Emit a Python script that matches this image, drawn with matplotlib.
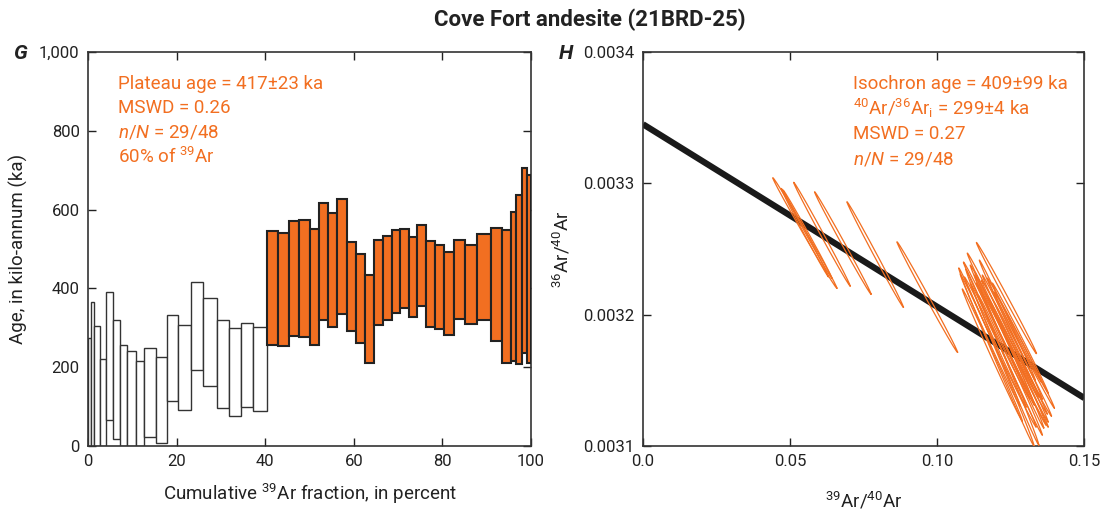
import numpy as np
import matplotlib
matplotlib.use("Agg")
import matplotlib.pyplot as plt
from matplotlib.ticker import FuncFormatter

# Fonts: a narrow-ish sans to mimic the condensed USGS look
plt.rcParams['font.family'] = ['Roboto', 'DejaVu Sans']
plt.rcParams['mathtext.fontset'] = 'custom'
plt.rcParams['mathtext.rm'] = 'Roboto'
plt.rcParams['mathtext.it'] = 'Roboto:italic'
plt.rcParams['mathtext.bf'] = 'Roboto:bold'

ORANGE = '#F26F21'

# ---------------- Panel G: age spectrum ----------------
# cumulative 39Ar boundaries (percent), 48 steps
cum_pct = [0, 0.75, 1.35, 2.64, 4.13, 5.64, 7.16, 8.8, 10.8, 12.7, 15.3, 17.8,
           20.4, 23.2, 26.0, 29.2, 31.8, 34.5, 37.3, 40.3,
           42.8, 45.4, 47.7, 50.0, 52.1, 54.2, 56.3, 58.4, 60.5, 62.5, 64.6,
           66.5, 68.5, 70.4, 72.5, 74.3, 76.3, 78.3, 80.4, 82.7, 85.0, 87.9,
           90.9, 93.4, 95.4, 96.7, 97.9, 99.0, 100.0]
age_lo = [0, 0, 0, 0, 66, 17, 0, 0, 0, 24, 7, 113, 91, 193, 153, 97, 77, 100, 90,
          256, 254, 279, 277, 256, 321, 301, 335, 293, 262, 210, 307, 321, 338,
          349, 328, 355, 301, 298, 283, 323, 310, 321, 266, 211, 216, 207, 235, 211]
age_hi = [273, 365, 305, 221, 390, 320, 256, 240, 217, 250, 225, 332, 306, 415,
          375, 321, 300, 313, 303,
          546, 541, 570, 574, 552, 616, 592, 626, 519, 487, 434, 523, 534, 548,
          552, 531, 561, 520, 510, 493, 524, 510, 539, 553, 548, 595, 637, 705, 689]
n_excluded = 19  # first steps not in plateau

# ---------------- Panel H: inverse isochron ----------------
# ellipse centres (39Ar/40Ar, 36Ar/40Ar) and half-extents
ell_x = [0.0550, 0.0550, 0.0559, 0.0608, 0.0679, 0.0789, 0.0966,
         0.1235, 0.1201, 0.1221, 0.1245, 0.1214, 0.1241, 0.1255, 0.1269,
         0.1282, 0.1255, 0.1228, 0.1207, 0.1187, 0.1275, 0.1296, 0.1248,
         0.1201, 0.1180, 0.1262, 0.1289, 0.1224, 0.1238]
ell_y = [0.0032622, 0.0032625, 0.0032613, 0.0032613, 0.0032546, 0.0032458, 0.0032134,
         0.0032127, 0.0031678, 0.0031678, 0.0031731, 0.0031716, 0.0031769, 0.0031693,
         0.0031746, 0.0031822, 0.0031830, 0.0031807, 0.0031769, 0.0031693, 0.0031655,
         0.0031731, 0.0031617, 0.0031883, 0.0031807, 0.0031883, 0.0031609, 0.0031921,
         0.0031959]
ell_sx = [0.0109, 0.0080, 0.0083, 0.0096, 0.0096, 0.0096, 0.0103,
          0.0102, 0.0128, 0.0124, 0.0117, 0.0122, 0.0129, 0.0122, 0.0119,
          0.0095, 0.0102, 0.0102, 0.0095, 0.0102, 0.0102, 0.0102, 0.0109,
          0.0112, 0.0102, 0.0092, 0.0085, 0.0122, 0.0095]
ell_sy = [4.21e-5, 3.36e-5, 3.36e-5, 3.95e-5, 3.90e-5, 4.02e-5, 4.21e-5,
          4.23e-5, 6.78e-5, 6.70e-5, 5.94e-5, 5.71e-5, 6.09e-5, 5.48e-5, 5.18e-5,
          4.19e-5, 4.72e-5, 4.95e-5, 4.72e-5, 5.03e-5, 4.72e-5, 4.42e-5, 5.33e-5,
          5.18e-5, 5.03e-5, 3.96e-5, 3.65e-5, 5.48e-5, 4.57e-5]
ell_rho = -0.998
iso_intercept = 0.003345
iso_slope = -0.00139

fig = plt.figure(figsize=(11.02, 5.14), dpi=100)
axG = fig.add_axes([0.0799, 0.1323, 0.402, 0.7665])
axH = fig.add_axes([0.5835, 0.1323, 0.4005, 0.7665])

# --- G bars
left = np.array(cum_pct[:-1])
width = np.diff(cum_pct)
lo = np.array(age_lo)
hi = np.array(age_hi)
axG.bar(left[:n_excluded], (hi - lo)[:n_excluded], width=width[:n_excluded],
        bottom=lo[:n_excluded], align='edge', facecolor='white',
        edgecolor='#333333', linewidth=1.0, zorder=2)
axG.bar(left[n_excluded:], (hi - lo)[n_excluded:], width=width[n_excluded:],
        bottom=lo[n_excluded:], align='edge', facecolor=ORANGE,
        edgecolor='#222222', linewidth=1.5, zorder=3)
axG.set_xlim(0, 100)
axG.set_ylim(0, 1000)
axG.set_xticks([0, 20, 40, 60, 80, 100])
axG.set_yticks([0, 200, 400, 600, 800, 1000])
axG.yaxis.set_major_formatter(FuncFormatter(lambda v, p: f'{int(v):,}'))
axG.set_xlabel('Cumulative $^{39}$Ar fraction, in percent', fontsize=13.5, labelpad=9,
               color='#222222')
axG.set_ylabel('Age, in kilo-annum (ka)', fontsize=13.5, labelpad=8, color='#222222')

g_lines = ['Plateau age = 417\u00b123 ka', 'MSWD = 0.26', '$n/N$ = 29/48',
           '60% of $^{39}$Ar']
for i, s in enumerate(g_lines):
    axG.text(0.068, 0.92 - i * 0.062, s, transform=axG.transAxes, color=ORANGE,
             fontsize=13.5, va='center', ha='left')

# --- H ellipses + isochron
t = np.linspace(0, 2 * np.pi, 400)
for cx, cy, sx, sy in zip(ell_x, ell_y, ell_sx, ell_sy):
    ex = cx + sx * np.cos(t)
    ey = cy + sy * (ell_rho * np.cos(t) + np.sqrt(1 - ell_rho ** 2) * np.sin(t))
    axH.plot(ex, ey, color=ORANGE, lw=0.9, zorder=3)
xl = np.array([0, 0.15])
axH.plot(xl, iso_intercept + iso_slope * xl, color='#1a1a1a', lw=4.5, zorder=2,
         solid_capstyle='butt')
axH.set_xlim(0, 0.15)
axH.set_ylim(0.0031, 0.0034)
axH.set_xticks([0, 0.05, 0.10, 0.15])
axH.set_xticklabels(['0.0', '0.05', '0.10', '0.15'])
axH.set_yticks([0.0031, 0.0032, 0.0033, 0.0034])
axH.set_yticklabels(['0.0031', '0.0032', '0.0033', '0.0034'])
axH.set_xlabel('$^{39}$Ar/$^{40}$Ar', fontsize=13.5, labelpad=15, color='#222222')
axH.set_ylabel('$^{36}$Ar/$^{40}$Ar', fontsize=13.5, labelpad=8, color='#222222')

h_lines = ['Isochron age = 409\u00b199 ka', '$^{40}$Ar/$^{36}$Ar$_{\\mathrm{i}}$ = 299\u00b14 ka',
           'MSWD = 0.27', '$n/N$ = 29/48']
for i, s in enumerate(h_lines):
    axH.text(0.475, 0.92 - i * 0.064, s, transform=axH.transAxes, color=ORANGE,
             fontsize=13.5, va='center', ha='left')

for ax in (axG, axH):
    ax.tick_params(direction='in', top=True, right=True, length=6, width=1.0,
                   labelsize=12, colors='#222222', pad=6)
    for sp in ax.spines.values():
        sp.set_linewidth(1.2)
        sp.set_color('#333333')

fig.text(0.535, 0.962, 'Cove Fort andesite (21BRD-25)', ha='center', va='center',
         fontsize=16, fontweight='bold', color='#222222')
fig.text(0.012, 0.895, 'G', fontsize=15, fontweight='bold', style='italic',
         va='center', color='#222222')
fig.text(0.507, 0.895, 'H', fontsize=15, fontweight='bold', style='italic',
         va='center', color='#222222')

fig.savefig('out.png', dpi=100)
